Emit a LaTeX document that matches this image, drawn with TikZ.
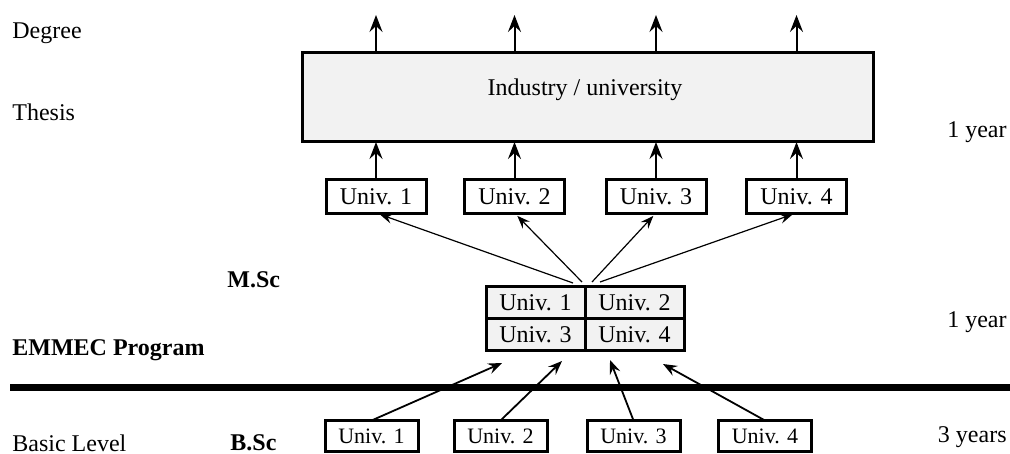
\documentclass[tikz,border=0pt]{standalone}
\usepackage{fontspec}
\setmainfont{Liberation Serif}
\usepackage{xcolor}
\usetikzlibrary{arrows.meta, positioning, calc}

\definecolor{boxgray}{RGB}{242,242,242}

\begin{document}
\begin{tikzpicture}[
        x=0.5pt, y=-0.5pt,
        font=\fontsize{12}{14}\selectfont,
        % Style des boîtes universités
        univ/.style={
            rectangle,
            draw=black,
            line width=1.5pt,
            fill=white,
            inner sep=0pt,
            outer sep=0pt,
            minimum width=50pt,
            minimum height=16.5pt
        },
        bsc/.style={
            univ,
            font=\fontsize{11}{13}\selectfont,
            minimum width=46.5pt,
            minimum height=15.5pt
        },
        cell/.style={
            univ,
            fill=boxgray,
            minimum width=49.5pt,
            minimum height=16pt
        },
        % Style des étiquettes
        lbl/.style={anchor=west, inner sep=0pt},
        yrs/.style={anchor=east, inner sep=0pt},
        bold/.style={font=\fontsize{12}{14}\selectfont\bfseries},
        % Style des flèches
        uparrow/.style={
            -{Stealth[length=8.5pt, width=6.5pt, inset=3pt]},
            line width=1pt
        },
        fanarrow/.style={
            -{Stealth[length=6.5pt, width=5pt, inset=2.4pt]},
            line width=0.6pt,
            shorten >=2pt
        },
        inarrow/.style={
            -{Stealth[length=7pt, width=5.5pt, inset=2.6pt]},
            line width=0.9pt
        }
    ]

    \useasboundingbox (0,0) rectangle (1010,454);

    % --- ÉTIQUETTES GAUCHE / DROITE ---
    \node [lbl] (degree) at (12,33) {Degree};
    \node [lbl] (thesis) at (12,112) {Thesis};
    \node [lbl, bold] (msc) at (227,280) {M.Sc};
    \node [lbl, bold] (emmec) at (12,350) {EMMEC Program};
    \node [lbl] (basic) at (12,443) {Basic Level};
    \node [lbl, bold] (bsc) at (230,443) {B.Sc};

    \node [yrs] (year1) at (1007,132) {1 year};
    \node [yrs] (year2) at (1007,322) {1 year};
    \node [yrs] (year3) at (1007,437) {3 years};

    % --- THÈSE ---
    \node [univ, fill=boxgray, minimum width=285.5pt, minimum height=44.5pt] (thesisbox) at (587.5,97.5) {};
    \node (indus) at (585,90) {Industry / university};

    % --- M.SC (2e année) ---
    \foreach \i/\x in {1/376, 2/514.5, 3/656, 4/796.5} {
        \node [univ] (a\i) at (\x,196.5) {Univ. \i};
        \coordinate (d\i) at (\x,15);
        \draw [uparrow] (a\i.north) -- (a\i.north |- thesisbox.south);
        \draw [uparrow] (a\i.north |- thesisbox.north) -- (d\i);
    }

    % --- EMMEC (1re année) ---
    \node [cell] (m1) at (535.5,302.5) {Univ. 1};
    \node [cell, right=0pt of m1] (m2) {Univ. 2};
    \node [cell, below=0pt of m1] (m3) {Univ. 3};
    \node [cell, right=0pt of m3] (m4) {Univ. 4};

    \coordinate (f1) at (573,283);
    \coordinate (f2) at (582,282);
    \coordinate (f3) at (592,282);
    \coordinate (f4) at (600,282);
    \foreach \i in {1,...,4}
        \draw [fanarrow] (f\i) -- (a\i.south);

    % --- LIGNE DE SÉPARATION ---
    \coordinate (rl) at (10,387);
    \coordinate (rr) at (1010,387);
    \draw [line width=3.5pt] (rl) -- (rr);

    % --- B.SC ---
    \coordinate (e1) at (502,363);
    \coordinate (e2) at (562,361);
    \coordinate (e3) at (610,360);
    \coordinate (e4) at (663,364);
    \foreach \i/\x in {1/371.5, 2/500.5, 3/633.5, 4/765} {
        \node [bsc] (b\i) at (\x,436) {Univ. \i};
        \draw [inarrow] (b\i.north) -- (e\i);
    }

\end{tikzpicture}
\end{document}
